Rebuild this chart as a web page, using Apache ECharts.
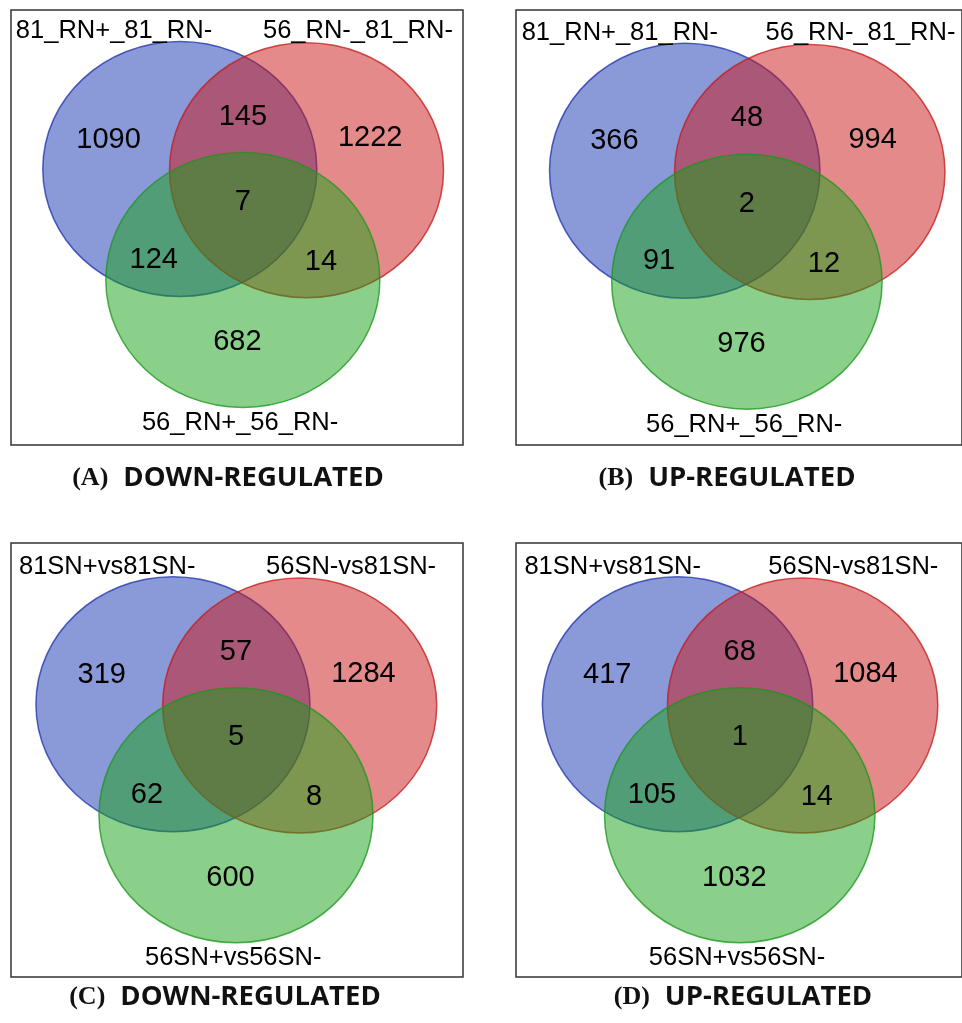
<!DOCTYPE html>
<html><head><meta charset="utf-8">
<script src="https://cdn.jsdelivr.net/npm/echarts@6/dist/echarts.min.js"></script>
<style>html,body{margin:0;padding:0;background:#fff}#c{width:962px;height:1023px}</style>
</head><body><div id="c"></div>
<script>
// ---------------- data ----------------
const panelLetters = ['A', 'B', 'C', 'D'];
const panelTitles = ['DOWN-REGULATED', 'UP-REGULATED', 'DOWN-REGULATED', 'UP-REGULATED'];
const setNamesRN = ['81_RN+_81_RN-', '56_RN-_81_RN-', '56_RN+_56_RN-'];
const setNamesSN = ['81SN+vs81SN-', '56SN-vs81SN-', '56SN+vs56SN-'];
// region order: only set1, set1&2, only set2, all three, set1&3, set2&3, only set3
const countsA = [1090, 145, 1222, 7, 124, 14, 682];
const countsB = [366, 48, 994, 2, 91, 12, 976];
const countsC = [319, 57, 1284, 5, 62, 8, 600];
const countsD = [417, 68, 1084, 1, 105, 14, 1032];

// ---------------- layout (Venn template in ellipse-radius units) ----------------
const setCenters = [[-0.46, 0.29], [0.465, 0.28], [0, -0.58]];
const regionAnchors = [[-0.98, 0.52], [0, 0.70], [0.93, 0.53], [0, 0.03], [-0.65, -0.42], [0.57, -0.44], [-0.04, -1.07]];
const setLabelAnchors = [[-0.94, 1.37], [0.84, 1.37], [-0.02, -1.70]];
const fills = ['rgba(21,51,177,0.5)', 'rgba(203,21,21,0.5)', 'rgba(21,161,21,0.5)'];
const strokes = ['rgba(30,50,170,0.75)', 'rgba(195,25,25,0.75)', 'rgba(25,150,25,0.75)'];

const panels = [
  { counts: countsA, names: setNamesRN, grid: { left: 11, top: 10, width: 452, height: 435 }, x: [-1.692, 1.607], y: [-1.875, 1.537], cap: [228, 478] },
  { counts: countsB, names: setNamesRN, grid: { left: 516, top: 10, width: 452, height: 435 }, x: [-1.708, 1.591], y: [-1.861, 1.551], cap: [727, 478] },
  { counts: countsC, names: setNamesSN, grid: { left: 11, top: 543, width: 452, height: 434 }, x: [-1.642, 1.657], y: [-1.849, 1.555], cap: [225, 997] },
  { counts: countsD, names: setNamesSN, grid: { left: 516, top: 543, width: 452, height: 434 }, x: [-1.655, 1.644], y: [-1.849, 1.555], cap: [743, 997] }
];

const FONT = '"Liberation Sans", Arial, Helvetica, sans-serif';
const grids = [], xAxes = [], yAxes = [], series = [], graphics = [];

panels.forEach((p, i) => {
  grids.push(Object.assign({ show: true, borderColor: '#333', borderWidth: 1.5, backgroundColor: 'transparent' }, p.grid));
  xAxes.push({ type: 'value', gridIndex: i, min: p.x[0], max: p.x[1], show: false });
  yAxes.push({ type: 'value', gridIndex: i, min: p.y[0], max: p.y[1], show: false });
  // ellipses
  series.push({
    type: 'custom', xAxisIndex: i, yAxisIndex: i, silent: true, clip: false,
    data: setCenters.map((c, k) => [c[0], c[1], k]),
    renderItem: function (params, api) {
      const pt = api.coord([api.value(0), api.value(1)]);
      const sz = api.size([1, 1]);
      const k = api.value(2);
      return {
        type: 'ellipse',
        shape: { cx: pt[0], cy: pt[1], rx: sz[0], ry: sz[1] },
        style: { fill: fills[k], stroke: strokes[k], lineWidth: 1.5 }
      };
    },
    z: 2
  });
  // region counts
  series.push({
    type: 'scatter', xAxisIndex: i, yAxisIndex: i, silent: true, symbolSize: 0,
    itemStyle: { opacity: 1 },
    data: regionAnchors.map((a, k) => [a[0], a[1], p.counts[k]]),
    label: { show: true, position: 'inside', formatter: d => String(d.value[2]), color: '#000', fontFamily: FONT, fontSize: 29 },
    z: 5
  });
  // set names
  series.push({
    type: 'scatter', xAxisIndex: i, yAxisIndex: i, silent: true, symbolSize: 0,
    itemStyle: { opacity: 1 },
    data: setLabelAnchors.map((a, k) => ({ value: [a[0], a[1]], name: p.names[k] })),
    label: { show: true, position: 'inside', formatter: d => d.name, color: '#000', fontFamily: FONT, fontSize: 25.5 },
    z: 5
  });
  graphics.push({
    type: 'text', x: p.cap[0], y: p.cap[1],
    style: {
      text: '{a|(' + panelLetters[i] + ')}{s| }{b|' + panelTitles[i] + '}',
      align: 'center', verticalAlign: 'middle',
      rich: {
        a: { fontFamily: '"Liberation Serif", "Times New Roman", serif', fontWeight: 'bold', fontSize: 26, fill: '#111' },
        s: { fontSize: 15, width: 15 },
        b: { fontFamily: '"Open Sans", sans-serif', fontWeight: 'bold', fontSize: 27.5, fill: '#111' }
      }
    }
  });
});

const chart = echarts.init(document.getElementById('c'), null, { renderer: 'canvas' });
chart.setOption({
  animation: false,
  backgroundColor: '#fff',
  grid: grids, xAxis: xAxes, yAxis: yAxes, series: series, graphic: graphics
});
</script></body></html>
